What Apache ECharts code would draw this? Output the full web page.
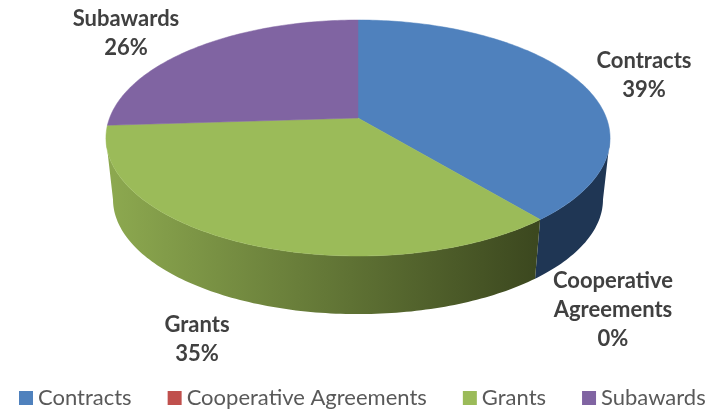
<!DOCTYPE html>
<html>
<head>
<meta charset="utf-8">
<style>
  html, body { margin: 0; padding: 0; background: #fff; }
  #chart { width: 715px; height: 410px; }
</style>
<script src="https://cdn.jsdelivr.net/npm/echarts@6/dist/echarts.min.js"></script>
</head>
<body>
<div id="chart"></div>
<script>
var categories = ['Contracts', 'Cooperative Agreements', 'Grants', 'Subawards'];
var values = [39, 0, 35, 26];

var topColors = ['#4f81bd', '#c0504d', '#9bbb59', '#8064a2'];
var sideColors = [
  ['#1f3654', '#1b3049'],
  ['#c0504d', '#c0504d'],
  ['#8ca84f', '#3c481f'],
  ['#8064a2', '#8064a2']
];
// 标签位置（中心点）
var labelPos = [
  { x: 644, y: 75 },
  { x: 613, y: 310 },
  { x: 197, y: 339 },
  { x: 126, y: 33 }
];

// 透视饼图的几何参数
var cx = 358, cy = 118;
var A = 248.4, B = 114.6, K = 0.1695;
var bottomScale = 0.972, bottomCy = 180;
var silhouette = Math.acos(-K) * 180 / Math.PI;

function project(deg) {
  var r = deg * Math.PI / 180;
  var u = Math.sin(r), v = Math.cos(r), w = 1 + K * v;
  return [cx + A * u / w, cy - B * v / w];
}

function toBottom(p) {
  return [cx + (p[0] - cx) * bottomScale, bottomCy + (p[1] - cy) * bottomScale];
}

function arcPoints(a, b) {
  var pts = [];
  for (var d = a; d < b; d += 1) pts.push(project(d));
  pts.push(project(b));
  return pts;
}

var total = values.reduce(function (s, v) { return s + v; }, 0);

function makeSeries(index) {
  var before = 0;
  for (var i = 0; i < index; i++) before += values[i];
  var start = before / total * 360;
  var end = (before + values[index]) / total * 360;

  return {
    type: 'custom',
    name: categories[index],
    coordinateSystem: 'none',
    silent: true,
    itemStyle: { color: topColors[index] },
    data: [values[index]],
    renderItem: function () {
      var children = [];
      if (end > start) {
        var sideA = Math.max(start, silhouette), sideB = Math.min(end, 360 - silhouette);
        if (sideB > sideA) {
          var upper = arcPoints(sideA, sideB);
          var lower = upper.map(toBottom).reverse();
          var fill = new echarts.graphic.LinearGradient(113, 0, 535, 0, [
            { offset: 0, color: sideColors[index][0] },
            { offset: 1, color: sideColors[index][1] }
          ], true);
          if (index === 0) fill = sideColors[0][0];
          children.push({
            type: 'polygon',
            z2: 1,
            shape: { points: upper.concat(lower) },
            style: { fill: fill }
          });
        }
        children.push({
          type: 'polygon',
          z2: 2,
          shape: { points: [[cx, cy]].concat(arcPoints(start, end)) },
          style: { fill: topColors[index], stroke: topColors[index], lineWidth: 0.5 }
        });
      }
      var pos = labelPos[index];
      var words = index === 1 ? 'Cooperative\nAgreements' : categories[index];
      children.push({
        type: 'text',
        z2: 3,
        x: pos.x,
        y: pos.y,
        style: {
          text: words + '\n' + values[index] + '%',
          fill: '#404040',
          font: 'bold 22px Lato',
          lineHeight: 29,
          align: 'center',
          verticalAlign: 'middle'
        }
      });
      return { type: 'group', children: children };
    }
  };
}

var chart = echarts.init(document.getElementById('chart'));
chart.setOption({
  animation: false,
  backgroundColor: '#ffffff',
  legend: {
    left: 14,
    top: 382,
    icon: 'rect',
    itemWidth: 14,
    itemHeight: 14,
    itemGap: 36,
    selectedMode: false,
    textStyle: { color: '#595959', fontFamily: 'Lato', fontSize: 22 },
    data: categories
  },
  series: categories.map(function (c, i) { return makeSeries(i); })
});
</script>
</body>
</html>
